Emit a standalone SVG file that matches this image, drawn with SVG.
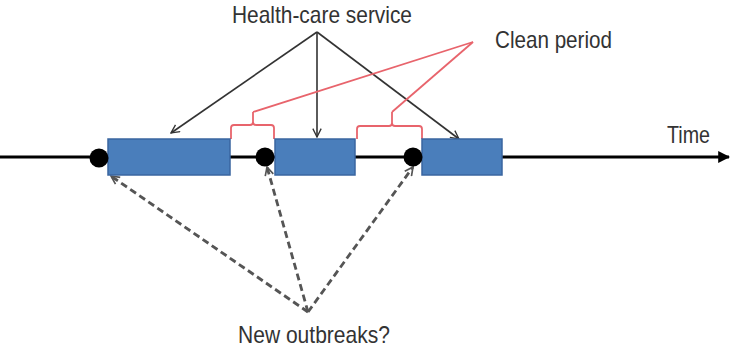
<svg xmlns="http://www.w3.org/2000/svg" width="735" height="350" viewBox="0 0 735 350">
<style>
.lbl{font-family:"Liberation Sans",Arial,sans-serif;font-size:24px;fill:#333}
.box{fill:#4a7ebb;stroke:#3a66a0;stroke-width:1.5}
.dot{fill:#000}
.hc{stroke:#333;stroke-width:1.6;fill:none}
.red{stroke:#e8646c;stroke-width:1.8;fill:none}
.dash{stroke:#555;stroke-width:2.8;fill:none;stroke-dasharray:7,4}
</style>
<defs>
<marker id="open" viewBox="0 0 12 12" refX="11" refY="6" markerWidth="10" markerHeight="10" markerUnits="userSpaceOnUse" orient="auto">
<path d="M1,1 L11,6 L1,11" fill="none" stroke="#333" stroke-width="1.6"/>
</marker>
<marker id="openD" viewBox="0 0 12 12" refX="11" refY="6" markerWidth="10" markerHeight="10" markerUnits="userSpaceOnUse" orient="auto">
<path d="M1,1 L11,6 L1,11" fill="none" stroke="#555" stroke-width="2"/>
</marker>
<marker id="axisHead" viewBox="0 0 10 10" refX="9" refY="5" markerWidth="12" markerHeight="12" markerUnits="userSpaceOnUse" orient="auto">
<path d="M0,0 L10,5 L0,10 Z" fill="#000"/>
</marker>
</defs>
<g id="connectors">
<line x1="0" y1="157" x2="729" y2="157" stroke="#000" stroke-width="3" marker-end="url(#axisHead)"/>
<line class="hc" x1="317" y1="32" x2="171" y2="133" marker-end="url(#open)"/>
<line class="hc" x1="317" y1="32" x2="317" y2="137" marker-end="url(#open)"/>
<line class="hc" x1="317" y1="32" x2="459" y2="139" marker-end="url(#open)"/>
<line class="red" x1="473" y1="42" x2="253" y2="112"/>
<line class="red" x1="473" y1="42" x2="392" y2="112"/>
<path class="red" d="M231,139 V128 Q231,125 234,125 H250 Q253,125 253,122 V112 M253,122 Q253,125 256,125 H271 Q274,125 274,128 V139"/>
<path class="red" d="M357,139 V129 Q357,126 360,126 H389 Q392,126 392,123 V112 M392,123 Q392,126 395,126 H419 Q422,126 422,129 V139"/>
<line class="dash" x1="308" y1="312" x2="111" y2="176" marker-end="url(#openD)"/>
<line class="dash" x1="308" y1="312" x2="267" y2="167" marker-end="url(#openD)"/>
<line class="dash" x1="308" y1="312" x2="413" y2="167" marker-end="url(#openD)"/>
</g>
<g id="box1"><rect class="box" x="108" y="139" width="122" height="36"/></g>
<g id="box2"><rect class="box" x="275" y="139" width="80" height="36"/></g>
<g id="box3"><rect class="box" x="422" y="139" width="80" height="36"/></g>
<g id="dot1"><circle class="dot" cx="99" cy="158" r="9.5"/></g>
<g id="dot2"><circle class="dot" cx="265" cy="157" r="9.5"/></g>
<g id="dot3"><circle class="dot" cx="413" cy="157" r="9.5"/></g>
<g id="label-health"><text class="lbl" x="232" y="23" textLength="180" lengthAdjust="spacingAndGlyphs">Health-care service</text></g>
<g id="label-clean"><text class="lbl" x="495" y="48" textLength="117" lengthAdjust="spacingAndGlyphs">Clean period</text></g>
<g id="label-time"><text class="lbl" x="667" y="143" textLength="43" lengthAdjust="spacingAndGlyphs">Time</text></g>
<g id="label-new"><text class="lbl" x="238" y="343" textLength="152" lengthAdjust="spacingAndGlyphs">New outbreaks?</text></g>
</svg>
